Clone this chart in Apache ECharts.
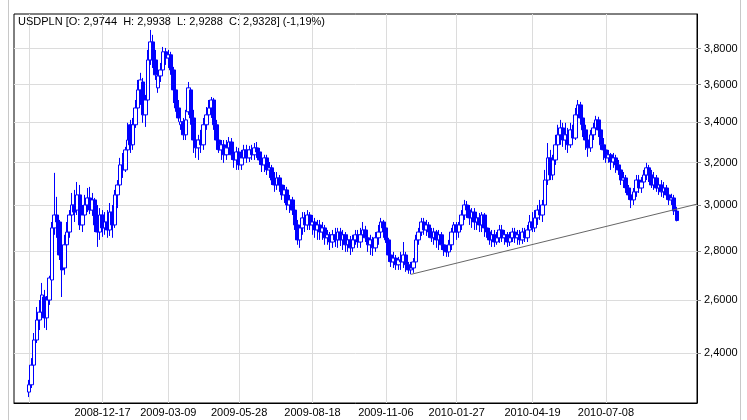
<!DOCTYPE html>
<html><head><meta charset="utf-8">
<script src="https://cdn.jsdelivr.net/npm/echarts@6/dist/echarts.min.js"></script>
<style>html,body{margin:0;padding:0;background:#fff}#c{width:747px;height:420px}</style>
</head><body><div id="c"></div>
<script>
const chartTitle = 'USDPLN [O: 2,9744  H: 2,9938  L: 2,9288  C: 2,9328] (-1,19%)';
const totalBars = 271;
const firstBar = 6;
const labelBars = [35, 61, 89, 118, 147, 175, 205, 234];
const labelDates = ['2008-12-17', '2009-03-09', '2009-05-28', '2009-08-18', '2009-11-06', '2010-01-27', '2010-04-19', '2010-07-08'];
const gridBars = [6, 35, 61, 89, 118, 147, 175, 205, 234];
const yTicks = [2.4, 2.6, 2.8, 3.0, 3.2, 3.4, 3.6, 3.8];
const yMin = 2.227, yMax = 4.004;
const trendBars = [157, 270];
const trendValues = [2.704, 3.006];

const opens = [
2.264,2.289,2.358,2.449,2.524,2.554,2.613,2.532,2.601,2.681,
2.900,2.957,2.926,2.784,2.730,2.827,2.882,2.957,3.002,2.979,
3.048,2.913,2.957,3.002,3.034,2.979,3.025,2.913,2.882,2.957,
2.900,2.926,2.891,2.970,2.913,3.048,3.094,3.189,3.165,3.262,
3.388,3.287,3.388,3.475,3.571,3.614,3.439,3.517,3.736,3.839,
3.736,3.582,3.647,3.680,3.782,3.747,3.765,3.680,3.571,3.475,
3.388,3.403,3.337,3.455,3.571,3.423,3.311,3.272,3.311,3.287,
3.388,3.439,3.475,3.517,3.388,3.311,3.262,3.287,3.238,3.272,
3.301,3.238,3.213,3.252,3.189,3.223,3.262,3.223,3.262,3.238,
3.272,3.252,3.213,3.189,3.223,3.165,3.175,3.117,3.094,3.127,
3.094,3.048,3.071,3.002,3.025,2.979,2.913,2.848,2.900,2.944,
2.913,2.957,2.913,2.926,2.891,2.913,2.882,2.900,2.857,2.870,
2.839,2.870,2.848,2.882,2.848,2.870,2.827,2.848,2.814,2.848,
2.870,2.839,2.870,2.891,2.857,2.827,2.848,2.814,2.857,2.882,
2.926,2.900,2.848,2.784,2.755,2.771,2.743,2.763,2.755,2.784,
2.743,2.722,2.730,2.755,2.848,2.882,2.926,2.891,2.913,2.882,
2.857,2.882,2.848,2.870,2.827,2.805,2.797,2.827,2.882,2.913,
2.882,2.913,2.957,3.002,2.979,2.944,2.970,2.926,2.944,2.913,
2.957,2.900,2.882,2.848,2.870,2.839,2.857,2.891,2.857,2.870,
2.839,2.857,2.882,2.857,2.870,2.848,2.882,2.857,2.891,2.926,
2.900,2.944,2.979,2.957,3.002,3.117,3.223,3.141,3.213,3.287,
3.337,3.372,3.311,3.337,3.287,3.362,3.321,3.439,3.491,3.423,
3.362,3.311,3.272,3.337,3.372,3.413,3.362,3.287,3.262,3.223,
3.238,3.203,3.223,3.189,3.165,3.117,3.127,3.080,3.048,3.025,
3.062,3.117,3.080,3.108,3.141,3.175,3.141,3.094,3.127,3.080,
3.094,3.062,3.080,3.048,3.025,3.034,2.9744];
const highs = [
2.306,2.383,2.475,2.574,2.601,2.669,2.641,2.617,2.698,2.926,
3.151,3.039,2.935,2.827,2.870,2.926,2.979,3.057,3.071,3.108,
3.094,3.002,3.048,3.080,3.085,3.057,3.034,3.002,2.988,2.979,
2.970,2.979,3.011,3.002,3.071,3.117,3.223,3.247,3.277,3.398,
3.413,3.423,3.517,3.625,3.664,3.636,3.544,3.793,3.909,3.880,
3.793,3.719,3.719,3.810,3.804,3.793,3.782,3.697,3.582,3.517,
3.423,3.423,3.465,3.614,3.582,3.465,3.362,3.337,3.362,3.423,
3.480,3.517,3.533,3.528,3.413,3.337,3.311,3.311,3.311,3.326,
3.321,3.277,3.277,3.272,3.262,3.287,3.287,3.282,3.287,3.296,
3.301,3.272,3.252,3.238,3.238,3.203,3.189,3.155,3.155,3.141,
3.108,3.094,3.085,3.048,3.039,3.002,2.935,2.913,2.970,2.970,
2.979,2.970,2.957,2.944,2.935,2.935,2.926,2.913,2.891,2.882,
2.891,2.900,2.900,2.900,2.891,2.882,2.870,2.865,2.870,2.891,
2.891,2.900,2.926,2.909,2.882,2.870,2.861,2.882,2.913,2.944,
2.935,2.917,2.857,2.805,2.797,2.784,2.776,2.797,2.839,2.797,
2.755,2.755,2.771,2.870,2.900,2.944,2.944,2.935,2.926,2.900,
2.900,2.891,2.891,2.882,2.848,2.827,2.848,2.900,2.926,2.926,
2.926,2.979,3.025,3.020,3.002,2.988,2.988,2.970,2.966,2.970,
2.966,2.926,2.900,2.891,2.891,2.882,2.913,2.913,2.891,2.882,
2.882,2.900,2.900,2.891,2.891,2.900,2.900,2.913,2.957,2.970,
2.979,3.002,3.025,3.025,3.165,3.296,3.262,3.238,3.337,3.388,
3.413,3.398,3.398,3.372,3.398,3.388,3.475,3.517,3.507,3.439,
3.388,3.362,3.362,3.398,3.434,3.429,3.372,3.321,3.272,3.262,
3.247,3.247,3.238,3.213,3.175,3.155,3.141,3.094,3.071,3.080,
3.141,3.141,3.131,3.165,3.199,3.189,3.165,3.155,3.141,3.117,
3.117,3.108,3.094,3.071,3.053,3.048,2.9938];
const lows = [
2.247,2.278,2.347,2.438,2.486,2.532,2.494,2.486,2.582,2.673,
2.870,2.857,2.763,2.613,2.702,2.771,2.857,2.900,2.926,2.957,
2.891,2.882,2.926,2.970,2.961,2.953,2.882,2.818,2.848,2.861,
2.870,2.857,2.865,2.857,2.900,2.988,3.071,3.127,3.155,3.247,
3.247,3.262,3.372,3.455,3.491,3.398,3.377,3.501,3.708,3.691,
3.625,3.555,3.614,3.664,3.708,3.691,3.653,3.501,3.455,3.403,
3.362,3.311,3.311,3.439,3.388,3.247,3.223,3.213,3.247,3.262,
3.362,3.403,3.423,3.362,3.262,3.247,3.213,3.199,3.213,3.238,
3.213,3.175,3.165,3.165,3.165,3.203,3.199,3.203,3.213,3.213,
3.223,3.189,3.155,3.155,3.141,3.127,3.094,3.062,3.071,3.062,
3.025,3.011,2.979,2.966,2.957,2.891,2.827,2.814,2.870,2.882,
2.891,2.891,2.870,2.857,2.848,2.848,2.848,2.827,2.827,2.805,
2.814,2.818,2.814,2.822,2.805,2.797,2.797,2.784,2.797,2.827,
2.814,2.814,2.848,2.839,2.797,2.784,2.780,2.797,2.827,2.857,
2.857,2.835,2.755,2.734,2.730,2.722,2.722,2.722,2.730,2.714,
2.706,2.704,2.710,2.743,2.827,2.865,2.870,2.865,2.857,2.839,
2.827,2.814,2.805,2.805,2.780,2.776,2.776,2.805,2.857,2.848,
2.857,2.891,2.935,2.944,2.913,2.900,2.891,2.891,2.882,2.882,
2.861,2.857,2.827,2.818,2.818,2.827,2.835,2.839,2.827,2.818,
2.822,2.839,2.835,2.827,2.827,2.831,2.839,2.839,2.870,2.882,
2.882,2.913,2.935,2.926,2.988,3.094,3.117,3.117,3.189,3.262,
3.287,3.277,3.262,3.247,3.272,3.296,3.311,3.413,3.388,3.326,
3.262,3.228,3.252,3.311,3.337,3.326,3.262,3.213,3.199,3.199,
3.165,3.175,3.151,3.141,3.094,3.080,3.057,3.025,2.988,3.002,
3.039,3.057,3.057,3.080,3.117,3.108,3.080,3.071,3.062,3.048,
3.039,3.034,3.025,3.002,3.002,2.957,2.9288];
const closes = [
2.289,2.358,2.449,2.524,2.554,2.621,2.532,2.601,2.689,2.900,
2.957,2.926,2.784,2.722,2.827,2.882,2.957,3.002,2.970,3.048,
2.913,2.957,3.002,3.034,2.979,3.025,2.913,2.882,2.957,2.900,
2.926,2.891,2.970,2.913,3.048,3.094,3.189,3.165,3.262,3.311,
3.287,3.388,3.475,3.571,3.625,3.439,3.517,3.736,3.839,3.736,
3.653,3.647,3.680,3.782,3.747,3.765,3.680,3.571,3.475,3.423,
3.403,3.337,3.413,3.582,3.423,3.311,3.272,3.311,3.287,3.388,
3.439,3.475,3.517,3.388,3.311,3.262,3.287,3.238,3.272,3.301,
3.238,3.213,3.252,3.189,3.223,3.262,3.223,3.262,3.238,3.272,
3.252,3.213,3.189,3.223,3.165,3.175,3.117,3.094,3.127,3.094,
3.048,3.071,3.002,3.025,2.979,2.913,2.848,2.900,2.944,2.913,
2.957,2.913,2.926,2.891,2.913,2.882,2.900,2.857,2.870,2.839,
2.870,2.848,2.882,2.848,2.870,2.827,2.848,2.814,2.848,2.870,
2.839,2.870,2.891,2.857,2.827,2.848,2.814,2.857,2.882,2.926,
2.900,2.848,2.784,2.755,2.771,2.743,2.763,2.755,2.784,2.743,
2.722,2.730,2.755,2.848,2.882,2.926,2.891,2.913,2.882,2.857,
2.882,2.848,2.870,2.827,2.805,2.797,2.827,2.882,2.913,2.882,
2.913,2.957,3.002,2.979,2.944,2.970,2.926,2.944,2.913,2.957,
2.900,2.882,2.848,2.870,2.839,2.857,2.891,2.857,2.870,2.839,
2.857,2.882,2.857,2.870,2.848,2.882,2.857,2.891,2.926,2.900,
2.944,2.979,2.957,3.002,3.117,3.223,3.141,3.213,3.287,3.337,
3.372,3.311,3.337,3.287,3.362,3.321,3.439,3.491,3.423,3.362,
3.311,3.272,3.337,3.372,3.413,3.362,3.287,3.262,3.223,3.238,
3.203,3.223,3.189,3.165,3.117,3.127,3.080,3.048,3.025,3.062,
3.117,3.080,3.108,3.141,3.175,3.141,3.094,3.127,3.080,3.094,
3.062,3.080,3.048,3.025,3.034,2.975,2.9328];

const FONT = "'Liberation Sans', Arial, sans-serif";
const ln = Math.log;
const categories = Array.from({length: totalBars}, (_, i) => String(i));
const candleData = opens.map((o, k) => [firstBar + k, ln(o), ln(closes[k]), ln(lows[k]), ln(highs[k])]);
const trendData = trendBars.map((b, k) => [b, ln(trendValues[k])]);
const yTickLn = yTicks.map(v => ln(v));
const fmtY = v => Math.exp(v).toFixed(4).replace('.', ',');

const chart = echarts.init(document.getElementById('c'), null, {renderer: 'canvas'});
chart.setOption({
  animation: false,
  backgroundColor: '#fff',
  textStyle: {fontFamily: FONT},
  title: {
    text: chartTitle, left: 18, top: 16, padding: 0,
    textStyle: {fontSize: 11, fontWeight: 'normal', color: '#000', fontFamily: FONT}
  },
  grid: {left: 14, right: 50, top: 14, bottom: 17, show: true, borderColor: '#000', borderWidth: 1,
         backgroundColor: 'transparent', containLabel: false, outerBoundsMode: 'none'},
  xAxis: {
    type: 'category', data: categories, boundaryGap: false,
    axisLine: {show: true, lineStyle: {color: '#000', width: 1}},
    axisTick: {show: false},
    axisLabel: {
      interval: (i) => labelBars.indexOf(i) >= 0,
      formatter: (v, i) => { const k = labelBars.indexOf(Number(v)); return k >= 0 ? labelDates[k] : ''; },
      margin: 4, fontSize: 11, color: '#000', fontFamily: FONT
    },
    splitLine: {show: true, interval: (i) => gridBars.indexOf(i) >= 0, lineStyle: {color: '#dcdcdc', width: 1}}
  },
  yAxis: {
    type: 'value', position: 'right', min: ln(yMin), max: ln(yMax), scale: true,
    axisLine: {show: true, lineStyle: {color: '#000', width: 1}},
    axisTick: {show: true, length: 4, customValues: yTickLn, lineStyle: {color: '#888'}},
    axisLabel: {customValues: yTickLn, formatter: fmtY, margin: 7, fontSize: 11, color: '#000', fontFamily: FONT},
    splitLine: {show: true, lineStyle: {color: '#dcdcdc', width: 1}}
  },
  graphic: [
    {type: 'line', shape: {x1: 8.5, y1: 0, x2: 8.5, y2: 420}, style: {stroke: '#c8c8c8', lineWidth: 1}, silent: true},
    {type: 'line', shape: {x1: 740.5, y1: 0, x2: 740.5, y2: 420}, style: {stroke: '#c8c8c8', lineWidth: 1}, silent: true}
  ],
  series: [
    {
      type: 'candlestick', data: candleData, encode: {x: 0, y: [1, 2, 3, 4]},
      barWidth: 4, silent: true,
      itemStyle: {color: '#ffffff', color0: '#0000ff', borderColor: '#0000ff', borderColor0: '#0000ff', borderColorDoji: '#0000ff', borderWidth: 1}
    },
    {
      type: 'line', data: trendData, symbol: 'none', silent: true, z: 5,
      lineStyle: {color: '#666', width: 1}
    }
  ]
});
</script>
</body></html>
